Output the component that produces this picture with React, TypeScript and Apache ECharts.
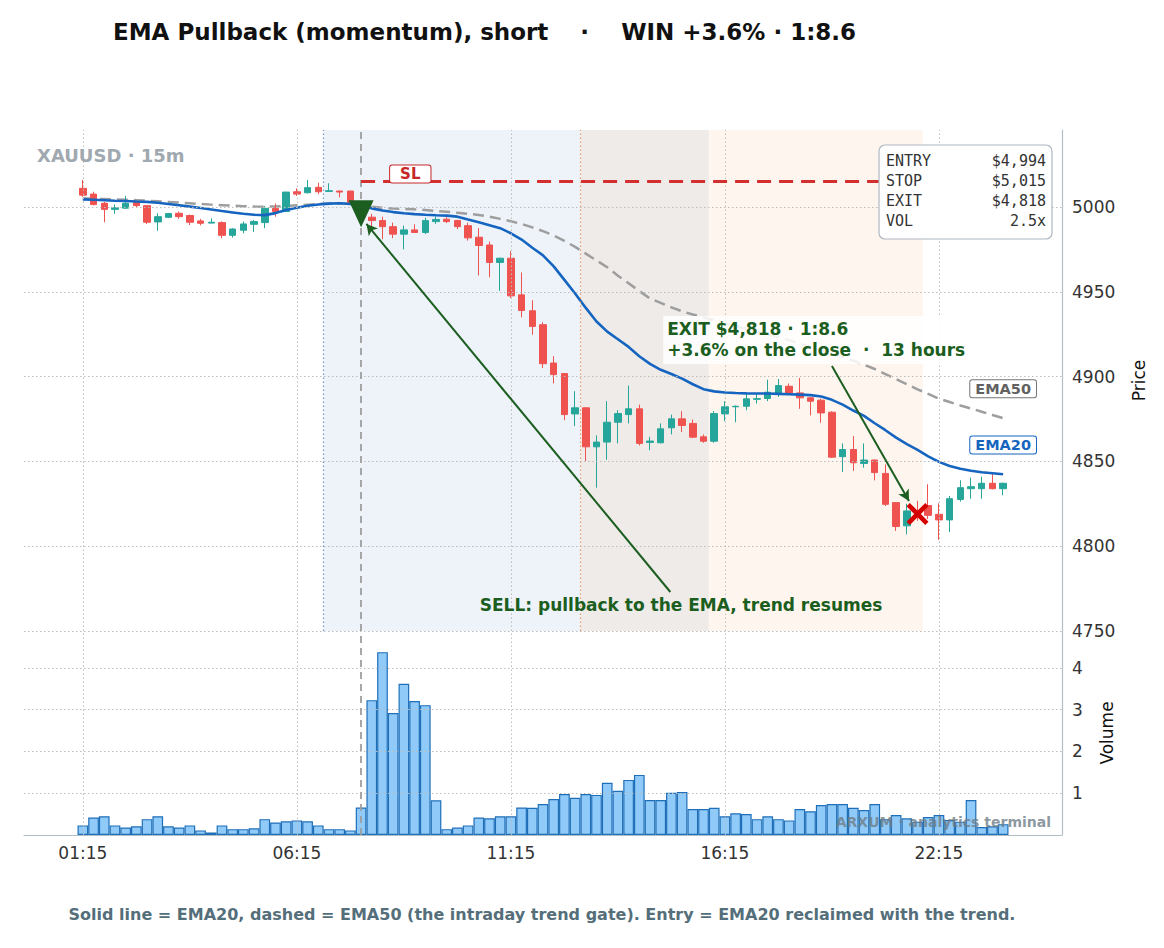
import React, { useEffect, useRef } from "react";
import * as echarts from "echarts";

// XAUUSD 15m bars
const OPEN = [
  5011, 5007.6, 5002.2, 4998.6, 4999.3, 5002.7, 5000.8, 4991.2, 4993.9, 4996.3,
  4995, 4991.8, 4990.5, 4990.8, 4983.3, 4986.3, 4989.8, 4990.8, 4999.2, 4997.3,
  5009, 5008.4, 5011.6, 5009.2, 5009.4, 5009.4, 5002, 4994, 4992, 4988.4,
  4984, 4986.5, 4985, 4991.4, 4992.8, 4992, 4989, 4982.2, 4977.6, 4967.3,
  4969.8, 4948.2, 4938.8, 4930.6, 4908, 4901.8, 4878, 4881.6, 4858.6, 4861.4,
  4873.1, 4877.6, 4881, 4861.2, 4861, 4869.8, 4875.1, 4872.4, 4864.5, 4861.9,
  4878, 4882.2, 4882.5, 4886.6, 4887.1, 4890.4, 4894.3, 4890.4, 4887.5, 4886.1,
  4879, 4852.8, 4857, 4848.8, 4850.8, 4842.9, 4825.7, 4812, 4821, 4824,
  4818.8, 4815.5, 4827.6, 4833.9, 4833.9, 4837.1, 4833.9,
];
const CLOSE = [
  5007, 5001.4, 4998.6, 4999.6, 5002.2, 5000.8, 4991, 4994.3, 4996.1, 4994.3,
  4991, 4990.4, 4991, 4983.3, 4987, 4990, 4991.4, 4999.2, 4997.3, 5008.8,
  5007.6, 5011.4, 5009, 5009.6, 5008.8, 5002.2, 4994, 4992, 4988.4, 4984,
  4986.5, 4985, 4992, 4992.7, 4991.4, 4988.4, 4981.8, 4977.3, 4967.3, 4969.8,
  4947.6, 4939, 4929.6, 4907.6, 4901.2, 4877.6, 4881.6, 4858.6, 4861.4, 4873.1,
  4878.2, 4881, 4860.6, 4862, 4869.2, 4875.1, 4871.2, 4864.3, 4861.9, 4878.2,
  4882.2, 4882.5, 4886.9, 4887, 4890.8, 4894.7, 4890.4, 4887.5, 4885.5, 4878.6,
  4852.5, 4857, 4849.2, 4850.8, 4843.4, 4824.7, 4811.6, 4820.8, 4818, 4818.2,
  4815.5, 4828, 4834.5, 4835.1, 4837.1, 4833.9, 4837.1,
];
const LOW = [
  5006, 5001, 4991, 4996, 4999, 5000, 4990, 4986, 4993.5, 4993,
  4989.4, 4989.2, 4990.5, 4981.6, 4982, 4984.5, 4985.3, 4987.5, 4994.3, 4997,
  5006.5, 5008, 5007.6, 5009, 5005.7, 5001.5, 4993, 4988.5, 4981, 4981.6,
  4975, 4985, 4984, 4990, 4990.5, 4987, 4980.2, 4959.6, 4958.6, 4950.6,
  4946.3, 4935, 4924.7, 4905, 4896, 4874.3, 4870.8, 4850.2, 4834.5, 4851,
  4860.6, 4872.4, 4859.4, 4856.6, 4860.6, 4865.9, 4867.3, 4863.7, 4861, 4861,
  4873.7, 4873.1, 4880.2, 4884.1, 4885.5, 4888, 4890, 4881, 4877.1, 4872.8,
  4852, 4843.8, 4844.4, 4846.3, 4838.8, 4823.7, 4809, 4807, 4815, 4816,
  4803.8, 4808.4, 4826.3, 4828, 4828, 4833.5, 4830,
];
const HIGH = [
  5016, 5009, 5003, 5001.5, 5006.5, 5003.5, 5001, 4996.3, 4996.5, 4997.3,
  4995.5, 4993, 4993.3, 4991.5, 4987.5, 4991.4, 4992.4, 5000.6, 5002, 5009,
  5011, 5016, 5014.3, 5014, 5009.6, 5009.5, 5003, 4996, 4994.3, 4990.8,
  4989, 4989.8, 4993.7, 4994.3, 4994, 4992.5, 4990.8, 4987.5, 4979.6, 4970,
  4974, 4961.4, 4945, 4932, 4912, 4902, 4891.4, 4882, 4865.3, 4885.5,
  4880.2, 4894.7, 4883.5, 4864.5, 4872.4, 4877.6, 4879.6, 4874.7, 4865.9, 4879.6,
  4885.5, 4883, 4890.4, 4890.4, 4898.2, 4898.6, 4895.9, 4899.2, 4888, 4887,
  4879.5, 4860.6, 4864.9, 4860.6, 4851, 4848.2, 4826, 4825, 4826.7, 4836.5,
  4825.3, 4829.6, 4838.9, 4840.4, 4841, 4842.4, 4837.5,
];
// relative volume (x average)
const VOLUME = [
  0.23, 0.42, 0.45, 0.23, 0.18, 0.21, 0.38, 0.45, 0.21, 0.18,
  0.23, 0.11, 0.06, 0.23, 0.14, 0.14, 0.16, 0.38, 0.3, 0.33,
  0.35, 0.33, 0.23, 0.14, 0.14, 0.11, 0.66, 3.23, 4.38, 2.92,
  3.62, 3.21, 3.11, 0.83, 0.14, 0.18, 0.23, 0.42, 0.4, 0.45,
  0.45, 0.66, 0.65, 0.74, 0.86, 0.98, 0.89, 0.98, 0.96, 1.25,
  1.06, 1.32, 1.44, 0.84, 0.84, 1.01, 1.03, 0.62, 0.62, 0.65,
  0.45, 0.52, 0.5, 0.38, 0.45, 0.38, 0.35, 0.62, 0.57, 0.72,
  0.74, 0.74, 0.65, 0.6, 0.74, 0.38, 0.48, 0.4, 0.32, 0.43,
  0.48, 0.36, 0.32, 0.84, 0.19, 0.21, 0.26,
];
const EMA20 = [
  5004.5, 5004.3, 5004.0, 5003.7, 5003.5, 5003.2, 5003.0, 5002.5, 5001.8, 5001.0,
  5000.2, 4999.4, 4998.5, 4997.6, 4996.8, 4996.0, 4995.4, 4995.2, 4996.4, 4998.2,
  4999.6, 5000.7, 5001.5, 5002.0, 5002.2, 5001.8, 5000.6, 4999.2, 4997.9, 4997.0,
  4996.3, 4995.8, 4995.4, 4995.1, 4994.9, 4994.3, 4992.6, 4991.0, 4989.3, 4987.5,
  4984.5, 4980.8, 4976.0, 4971.5, 4965.0, 4957.0, 4949.0, 4940.5, 4932.5, 4926.5,
  4922.0, 4917.5, 4912.0, 4907.5, 4904.0, 4901.5, 4898.8, 4895.5, 4892.6, 4891.3,
  4890.6, 4890.3, 4890.1, 4890.0, 4890.0, 4889.8, 4889.6, 4889.4, 4889.1, 4888.3,
  4886.3, 4883.5, 4880.0, 4876.8, 4872.5, 4868.4, 4864.0, 4860.2, 4856.8, 4853.0,
  4849.7, 4847.3, 4845.7, 4844.5, 4843.6, 4843.0, 4842.4,
];
const EMA50 = [
  5005.1, 5004.9, 5004.7, 5004.5, 5004.3, 5004.0, 5003.7, 5003.4, 5003.0, 5002.6,
  5002.2, 5001.8, 5001.4, 5001.1, 5000.8, 5000.5, 5000.3, 5000.2, 5000.3, 5000.6,
  5001.0, 5001.4, 5001.8, 5002.1, 5002.2, 5001.8, 5001.0, 5000.2, 4999.6, 4999.1,
  4998.8, 4998.6, 4998.2, 4997.7, 4997.2, 4996.6, 4996.0, 4995.3, 4994.3, 4993.0,
  4991.6, 4990.0, 4988.0, 4985.8, 4983.2, 4980.0, 4976.5, 4972.5, 4968.5, 4964.5,
  4959.5, 4955.0, 4950.5, 4946.0, 4943.5, 4940.8, 4938.5, 4936.6, 4935.0, 4933.3,
  4931.5, 4929.8, 4928.2, 4926.4, 4924.8, 4923.2, 4921.4, 4919.4, 4917.4, 4915.4,
  4913.4, 4911.5, 4909.4, 4907.0, 4904.5, 4901.5, 4898.5, 4895.5, 4892.5, 4889.8,
  4887.0, 4885.0, 4883.0, 4881.2, 4879.3, 4877.4, 4875.5,
];

const PRICE_TICKS = [4750, 4800, 4850, 4900, 4950, 5000];
const VOL_TICKS = [1, 2, 3, 4];
const LABEL_EVERY = 20;

const ENTRY_IDX = 26;
const ENTRY_PRICE = 4994;
const STOP_PRICE = 5015;
const EXIT_IDX = 78;
const EXIT_PRICE = 4818;
const INFO_ROWS = [
  ["ENTRY", "$4,994"],
  ["STOP", "$5,015"],
  ["EXIT", "$4,818"],
  ["VOL", "2.5x"],
];

// 15m bars from 01:15, with the one hour daily break before 22:15
const TIMES = OPEN.map((_, i) => {
  const m = 75 + i * 15 + (i >= 80 ? 60 : 0);
  const h = Math.floor(m / 60) % 24;
  return `${String(h).padStart(2, "0")}:${String(m % 60).padStart(2, "0")}`;
});

const PAD = 5;
const FONT = '"DejaVu Sans", sans-serif';
const MONO = '"DejaVu Sans Mono", monospace';
const GREEN = "#1B5E20";
const AXIS = "#B0BEC5";
const GRIDLINE = { color: "#BDBDBD", width: 1, type: [1.5, 2.5] };

export default function App() {
  const ref = useRef<HTMLDivElement>(null);

  useEffect(() => {
    if (!ref.current) return;
    const chart = echarts.init(ref.current, null, { renderer: "svg" });
    const n = OPEN.length;
    const cats = [
      ...Array.from({ length: PAD }, (_, k) => `a${k}`),
      ...TIMES,
      ...Array.from({ length: PAD }, (_, k) => `b${k}`),
    ];
    const showLabel = (idx: number) => {
      const i = idx - PAD;
      return i >= 0 && i < n && i % LABEL_EVERY === 0;
    };
    const labelIdx = TIMES.map((_, i) => i).filter((i) => i % LABEL_EVERY === 0);

    const option: any = {
      animation: false,
      textStyle: { fontFamily: FONT },
      grid: [
        { left: 24, right: 102, top: 130, height: 501 },
        { left: 24, right: 102, top: 631, height: 204 },
      ],
      xAxis: [
        { type: "value", gridIndex: 0, min: -5.5, max: n + 4.5, show: false },
        {
          type: "category",
          gridIndex: 1,
          data: cats,
          boundaryGap: true,
          position: "bottom",
          axisLine: { lineStyle: { color: AXIS, width: 1.2 } },
          axisTick: { alignWithLabel: true, interval: showLabel, length: 5, lineStyle: { color: AXIS } },
          axisLabel: { interval: showLabel, fontSize: 17, color: "#333", margin: 9 },
          splitLine: { show: false },
        },
      ],
      yAxis: [
        {
          type: "value",
          gridIndex: 0,
          position: "right",
          min: 4750,
          max: 5045.4,
          interval: 50,
          axisLine: { show: true, onZero: false, lineStyle: { color: AXIS, width: 1.2 } },
          axisTick: { show: false },
          axisLabel: {
            fontSize: 17,
            color: "#333",
            margin: 10,
            formatter: (v: number) => (v % 50 === 0 ? String(v) : ""),
          },
          splitLine: { show: false },
          name: "Price",
          nameLocation: "middle",
          nameGap: 68,
          nameRotate: 90,
          nameTextStyle: { fontSize: 17, color: "#111" },
        },
        {
          type: "value",
          gridIndex: 1,
          position: "right",
          min: 0,
          max: 4.886,
          interval: 1,
          axisLine: { show: true, onZero: false, lineStyle: { color: AXIS, width: 1.2 } },
          axisTick: { show: false },
          axisLabel: {
            fontSize: 17,
            color: "#333",
            margin: 10,
            formatter: (v: number) => (v >= 1 && Number.isInteger(v) ? String(v) : ""),
          },
          splitLine: { show: false },
          name: "Volume",
          nameLocation: "middle",
          nameGap: 36,
          nameRotate: 90,
          nameTextStyle: { fontSize: 17, color: "#111" },
        },
      ],
      series: [
        {
          name: "price",
          type: "candlestick",
          xAxisIndex: 0,
          yAxisIndex: 0,
          barWidth: 7,
          data: OPEN.map((o, i) => [i, o, CLOSE[i], LOW[i], HIGH[i]]),
          encode: { x: 0, y: [1, 2, 3, 4] },
          itemStyle: {
            color: "#26A69A",
            color0: "#EF5350",
            borderColor: "#26A69A",
            borderColor0: "#EF5350",
            borderWidth: 1,
          },
          markArea: {
            silent: true,
            data: [
              [{ xAxis: 22.5, itemStyle: { color: "#EEF3FA" } }, { xAxis: 46.5 }],
              [{ xAxis: 46.5, itemStyle: { color: "#EFEBE9" } }, { xAxis: 58.5 }],
              [{ xAxis: 58.5, itemStyle: { color: "#FEF5EE" } }, { xAxis: 78.5 }],
            ],
          },
          markLine: {
            silent: true,
            symbol: ["none", "none"],
            label: { show: false },
            data: [
              ...labelIdx.map((x) => ({ xAxis: x, lineStyle: GRIDLINE })),
              ...PRICE_TICKS.map((y) => ({ yAxis: y, lineStyle: GRIDLINE })),
              { xAxis: 22.5, lineStyle: { color: "#6C93D0", width: 1.2, type: [1.5, 2.5] } },
              { xAxis: 46.5, lineStyle: { color: "#E59C6A", width: 1.2, type: [1.5, 2.5] } },
              { xAxis: ENTRY_IDX, lineStyle: { color: "#9E9E9E", width: 1.8, type: [7, 5] } },
              [
                { coord: [ENTRY_IDX, STOP_PRICE], lineStyle: { color: "#D32F2F", width: 2.8, type: [14, 8] } },
                { coord: [n - 1, STOP_PRICE] },
              ],
              [
                { coord: [54.9, 4773], symbol: "none", lineStyle: { color: GREEN, width: 2, type: "solid" } },
                { coord: [26.5, 4990], symbol: "arrow", symbolSize: [9, 11] },
              ],
              [
                { coord: [70.0, 4906.3], symbol: "none", lineStyle: { color: GREEN, width: 2, type: "solid" } },
                { coord: [77.2, 4826.7], symbol: "arrow", symbolSize: [9, 11] },
              ],
            ],
          },
          markPoint: {
            silent: true,
            label: { show: false },
            data: [
              {
                coord: [ENTRY_IDX, ENTRY_PRICE + 2],
                symbol: "triangle",
                symbolRotate: 180,
                symbolSize: [25, 27],
                itemStyle: { color: GREEN },
              },
              {
                coord: [EXIT_IDX, EXIT_PRICE + 1],
                symbol: "path://M3,0L10,7L17,0L20,3L13,10L20,17L17,20L10,13L3,20L0,17L7,10L0,3Z",
                symbolSize: 22,
                itemStyle: { color: "#D50000" },
              },
              {
                coord: [30.6, 5019.5],
                symbolSize: 0,
                label: {
                  show: true,
                  position: "inside",
                  formatter: "SL",
                  color: "#C62828",
                  fontWeight: "bold",
                  fontSize: 15,
                  backgroundColor: "#fff",
                  borderColor: "#C62828",
                  borderWidth: 1,
                  borderRadius: 2,
                  padding: [1, 10],
                },
              },
              {
                coord: [n - 1, 4892.9],
                symbolSize: 0,
                label: {
                  show: true,
                  position: "inside",
                  formatter: "EMA50",
                  color: "#616161",
                  fontWeight: "bold",
                  fontSize: 14.5,
                  backgroundColor: "#fff",
                  borderColor: "#757575",
                  borderWidth: 1,
                  borderRadius: 2,
                  padding: [1, 5],
                },
              },
              {
                coord: [n - 1, 4859.7],
                symbolSize: 0,
                label: {
                  show: true,
                  position: "inside",
                  formatter: "EMA20",
                  color: "#1565C0",
                  fontWeight: "bold",
                  fontSize: 14.5,
                  backgroundColor: "#fff",
                  borderColor: "#1565C0",
                  borderWidth: 1,
                  borderRadius: 2,
                  padding: [1, 5],
                },
              },
              {
                coord: [55.9, 4765.3],
                symbolSize: 0,
                label: {
                  show: true,
                  position: "inside",
                  formatter: "SELL: pullback to the EMA, trend resumes",
                  color: GREEN,
                  fontWeight: "bold",
                  fontSize: 17,
                },
              },
              {
                coord: [54.23, 4921.6],
                symbolSize: 0,
                label: {
                  show: true,
                  position: "right",
                  distance: 0,
                  align: "left",
                  formatter: "EXIT $4,818 · 1:8.6\n+3.6% on the close  ·  13 hours",
                  color: GREEN,
                  fontWeight: "bold",
                  fontSize: 17,
                  lineHeight: 21,
                  backgroundColor: "rgba(255,255,255,0.85)",
                  padding: [3, 4],
                },
              },
            ],
          },
          z: 3,
        },
        {
          name: "EMA50",
          type: "line",
          xAxisIndex: 0,
          yAxisIndex: 0,
          data: EMA50.map((v, i) => [i, v]),
          showSymbol: false,
          lineStyle: { color: "#9E9E9E", width: 2.5, type: [11, 6] },
          z: 2,
        },
        {
          name: "EMA20",
          type: "line",
          xAxisIndex: 0,
          yAxisIndex: 0,
          data: EMA20.map((v, i) => [i, v]),
          showSymbol: false,
          lineStyle: { color: "#1565C0", width: 2.6 },
          z: 4,
        },
        {
          name: "volume",
          type: "bar",
          xAxisIndex: 1,
          yAxisIndex: 1,
          barCategoryGap: "0%",
          data: [...Array(PAD).fill("-"), ...VOLUME, ...Array(PAD).fill("-")],
          itemStyle: { color: "#90CAF9", borderColor: "#1F6FB8", borderWidth: 1.2 },
          markLine: {
            silent: true,
            symbol: ["none", "none"],
            label: { show: false },
            data: [
              ...labelIdx.map((x) => ({ xAxis: x + PAD, lineStyle: GRIDLINE })),
              ...VOL_TICKS.map((y) => ({ yAxis: y, lineStyle: GRIDLINE })),
              { xAxis: ENTRY_IDX + PAD, lineStyle: { color: "#9E9E9E", width: 1.8, type: [7, 5] } },
            ],
          },
        },
      ],
      graphic: [
        {
          type: "text",
          x: 113,
          y: 32,
          z: 100,
          style: {
            text: "EMA Pullback (momentum), short    ·    WIN +3.6% · 1:8.6",
            font: `bold 23px ${FONT}`,
            fill: "#111",
            verticalAlign: "middle",
          },
        },
        {
          type: "text",
          x: 37,
          y: 155,
          z: 100,
          style: {
            text: "XAUUSD · 15m",
            font: `bold 18px ${FONT}`,
            fill: "#A0A8B0",
            verticalAlign: "middle",
          },
        },
        {
          type: "rect",
          z: 100,
          shape: { x: 879, y: 145, width: 173, height: 94, r: 6 },
          style: { fill: "#fff", stroke: "#AEB8C2", lineWidth: 1.2 },
        },
        ...INFO_ROWS.flatMap(([k, v], r) => [
          {
            type: "text",
            x: 886,
            y: 161 + r * 20,
            z: 101,
            style: { text: k, font: `15px ${MONO}`, fill: "#333", verticalAlign: "middle" },
          },
          {
            type: "text",
            x: 1046,
            y: 161 + r * 20,
            z: 101,
            style: { text: v, font: `15px ${MONO}`, fill: "#333", align: "right", verticalAlign: "middle" },
          },
        ]),
        {
          type: "text",
          x: 1051,
          y: 822,
          z: 100,
          style: {
            text: "ARXUM · analytics terminal",
            font: `bold 14px ${FONT}`,
            fill: "rgba(110,124,134,0.8)",
            align: "right",
            verticalAlign: "middle",
          },
        },
        {
          type: "text",
          x: 542,
          y: 914,
          z: 100,
          style: {
            text: "Solid line = EMA20, dashed = EMA50 (the intraday trend gate). Entry = EMA20 reclaimed with the trend.",
            font: `bold 16px ${FONT}`,
            fill: "#546E7A",
            align: "center",
            verticalAlign: "middle",
          },
        },
      ],
    };
    chart.setOption(option);
    return () => chart.dispose();
  }, []);

  return (
    <div
      ref={ref}
      style={{ position: "absolute", left: 0, top: 0, width: 1164, height: 948, background: "#fff" }}
    />
  );
}
